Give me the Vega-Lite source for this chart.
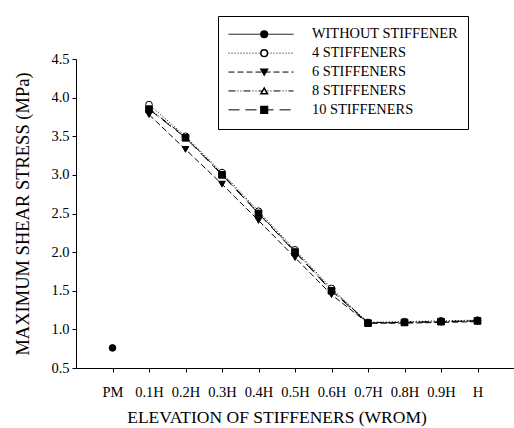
{
  "$schema": "https://vega.github.io/schema/vega-lite/v6.json",
  "width": 438,
  "height": 309,
  "autosize": "none",
  "padding": {"left": 76, "top": 59, "right": 0, "bottom": 60},
  "background": "white",
  "config": {
    "font": "Liberation Serif",
    "view": {"stroke": null},
    "axis": {
      "grid": false,
      "domainColor": "black",
      "domainWidth": 1,
      "tickColor": "black",
      "tickWidth": 1,
      "tickSize": 4,
      "labelColor": "black",
      "labelFont": "Liberation Serif",
      "labelFontSize": 14.5,
      "titleColor": "black",
      "titleFont": "Liberation Serif",
      "titleFontWeight": "normal"
    }
  },
  "data": {
    "values": [
      {"series": "WITHOUT STIFFENER", "elevation": "PM", "stress": 0.76},
      {"series": "4 STIFFENERS", "elevation": "0.1H", "stress": 3.91},
      {"series": "4 STIFFENERS", "elevation": "0.2H", "stress": 3.5},
      {"series": "4 STIFFENERS", "elevation": "0.3H", "stress": 3.03},
      {"series": "4 STIFFENERS", "elevation": "0.4H", "stress": 2.53},
      {"series": "4 STIFFENERS", "elevation": "0.5H", "stress": 2.03},
      {"series": "4 STIFFENERS", "elevation": "0.6H", "stress": 1.53},
      {"series": "4 STIFFENERS", "elevation": "0.7H", "stress": 1.09},
      {"series": "4 STIFFENERS", "elevation": "0.8H", "stress": 1.1},
      {"series": "4 STIFFENERS", "elevation": "0.9H", "stress": 1.11},
      {"series": "4 STIFFENERS", "elevation": "H", "stress": 1.12},
      {"series": "6 STIFFENERS", "elevation": "0.1H", "stress": 3.78},
      {"series": "6 STIFFENERS", "elevation": "0.2H", "stress": 3.33},
      {"series": "6 STIFFENERS", "elevation": "0.3H", "stress": 2.88},
      {"series": "6 STIFFENERS", "elevation": "0.4H", "stress": 2.41},
      {"series": "6 STIFFENERS", "elevation": "0.5H", "stress": 1.93},
      {"series": "6 STIFFENERS", "elevation": "0.6H", "stress": 1.45},
      {"series": "6 STIFFENERS", "elevation": "0.7H", "stress": 1.08},
      {"series": "6 STIFFENERS", "elevation": "0.8H", "stress": 1.08},
      {"series": "6 STIFFENERS", "elevation": "0.9H", "stress": 1.09},
      {"series": "6 STIFFENERS", "elevation": "H", "stress": 1.1},
      {"series": "8 STIFFENERS", "elevation": "0.1H", "stress": 3.86},
      {"series": "8 STIFFENERS", "elevation": "0.2H", "stress": 3.49},
      {"series": "8 STIFFENERS", "elevation": "0.3H", "stress": 3.01},
      {"series": "8 STIFFENERS", "elevation": "0.4H", "stress": 2.51},
      {"series": "8 STIFFENERS", "elevation": "0.5H", "stress": 2.01},
      {"series": "8 STIFFENERS", "elevation": "0.6H", "stress": 1.51},
      {"series": "8 STIFFENERS", "elevation": "0.7H", "stress": 1.09},
      {"series": "8 STIFFENERS", "elevation": "0.8H", "stress": 1.09},
      {"series": "8 STIFFENERS", "elevation": "0.9H", "stress": 1.1},
      {"series": "8 STIFFENERS", "elevation": "H", "stress": 1.11},
      {"series": "10 STIFFENERS", "elevation": "0.1H", "stress": 3.85},
      {"series": "10 STIFFENERS", "elevation": "0.2H", "stress": 3.48},
      {"series": "10 STIFFENERS", "elevation": "0.3H", "stress": 3.0},
      {"series": "10 STIFFENERS", "elevation": "0.4H", "stress": 2.5},
      {"series": "10 STIFFENERS", "elevation": "0.5H", "stress": 2.0},
      {"series": "10 STIFFENERS", "elevation": "0.6H", "stress": 1.5},
      {"series": "10 STIFFENERS", "elevation": "0.7H", "stress": 1.08},
      {"series": "10 STIFFENERS", "elevation": "0.8H", "stress": 1.09},
      {"series": "10 STIFFENERS", "elevation": "0.9H", "stress": 1.1},
      {"series": "10 STIFFENERS", "elevation": "H", "stress": 1.11}
    ]
  },
  "encoding": {
    "x": {
      "field": "elevation",
      "type": "ordinal",
      "scale": {
        "type": "point",
        "domain": ["PM", "0.1H", "0.2H", "0.3H", "0.4H", "0.5H", "0.6H", "0.7H", "0.8H", "0.9H", "H"],
        "padding": 1
      },
      "axis": {
        "title": "ELEVATION OF STIFFENERS (WROM)",
        "labelAngle": 0,
        "labelPadding": 13,
        "titleFontSize": 17.5,
        "titleX": 200.5,
        "titleY": 49,
        "titleBaseline": "middle",
        "titleAlign": "center"
      }
    },
    "y": {
      "field": "stress",
      "type": "quantitative",
      "scale": {"domain": [0.5, 4.5], "nice": false, "zero": false},
      "axis": {
        "title": "MAXIMUM SHEAR STRESS (MPa)",
        "values": [0.5, 1, 1.5, 2, 2.5, 3, 3.5, 4, 4.5],
        "format": ".1f",
        "labelPadding": 3,
        "titleFontSize": 18.5,
        "titleAngle": -90,
        "titleX": -53.5,
        "titleY": 154.5,
        "titleBaseline": "middle",
        "titleAlign": "center"
      }
    }
  },
  "layer": [
    {
      "mark": {"type": "line", "color": "black", "strokeWidth": 1},
      "encoding": {
        "strokeDash": {
          "field": "series",
          "type": "nominal",
          "sort": ["WITHOUT STIFFENER", "4 STIFFENERS", "6 STIFFENERS", "8 STIFFENERS", "10 STIFFENERS"],
          "scale": {
            "range": [[1, 0], [1, 2], [6, 3], [7, 2, 1, 2, 1, 2], [11, 6]]
          },
          "legend": {
            "title": null,
            "orient": "none",
            "legendX": 142,
            "legendY": -43,
            "zindex": 1,
            "symbolType": "stroke",
            "symbolSize": 4225,
            "symbolStrokeColor": "black",
            "symbolStrokeWidth": 1,
            "labelFont": "Liberation Serif",
            "labelFontSize": 14.4,
            "labelColor": "black",
            "labelOffset": 18,
            "labelLimit": 0,
            "padding": 10,
            "clipHeight": 16.5,
            "rowPadding": 1.9,
            "strokeColor": "black",
            "fillColor": "white"
          }
        }
      }
    },
    {
      "mark": {"type": "point", "filled": true, "stroke": "black", "strokeWidth": 1, "size": 44, "opacity": 1},
      "encoding": {
        "shape": {
          "field": "series",
          "type": "nominal",
          "scale": {
            "domain": ["WITHOUT STIFFENER", "4 STIFFENERS", "6 STIFFENERS", "8 STIFFENERS", "10 STIFFENERS"],
            "range": ["circle", "circle", "triangle-down", "triangle-up", "square"]
          },
          "legend": {
            "title": null,
            "orient": "none",
            "legendX": 142,
            "legendY": -43,
            "zindex": 2,
            "symbolSize": 44,
            "symbolOffset": 29,
            "labelFont": "Liberation Serif",
            "labelFontSize": 14.4,
            "labelOpacity": 0,
            "labelOffset": 18,
            "labelLimit": 0,
            "padding": 10,
            "clipHeight": 16.5,
            "rowPadding": 1.9,
            "encode": {
              "symbols": {
                "update": {
                  "fill": {"scale": "fill", "field": "value"},
                  "stroke": {"value": "black"},
                  "strokeWidth": {"value": 1},
                  "opacity": {"value": 1}
                }
              }
            }
          }
        },
        "fill": {
          "field": "series",
          "type": "nominal",
          "scale": {
            "domain": ["WITHOUT STIFFENER", "4 STIFFENERS", "6 STIFFENERS", "8 STIFFENERS", "10 STIFFENERS"],
            "range": ["black", "white", "black", "white", "black"]
          },
          "legend": null
        }
      }
    }
  ]
}
